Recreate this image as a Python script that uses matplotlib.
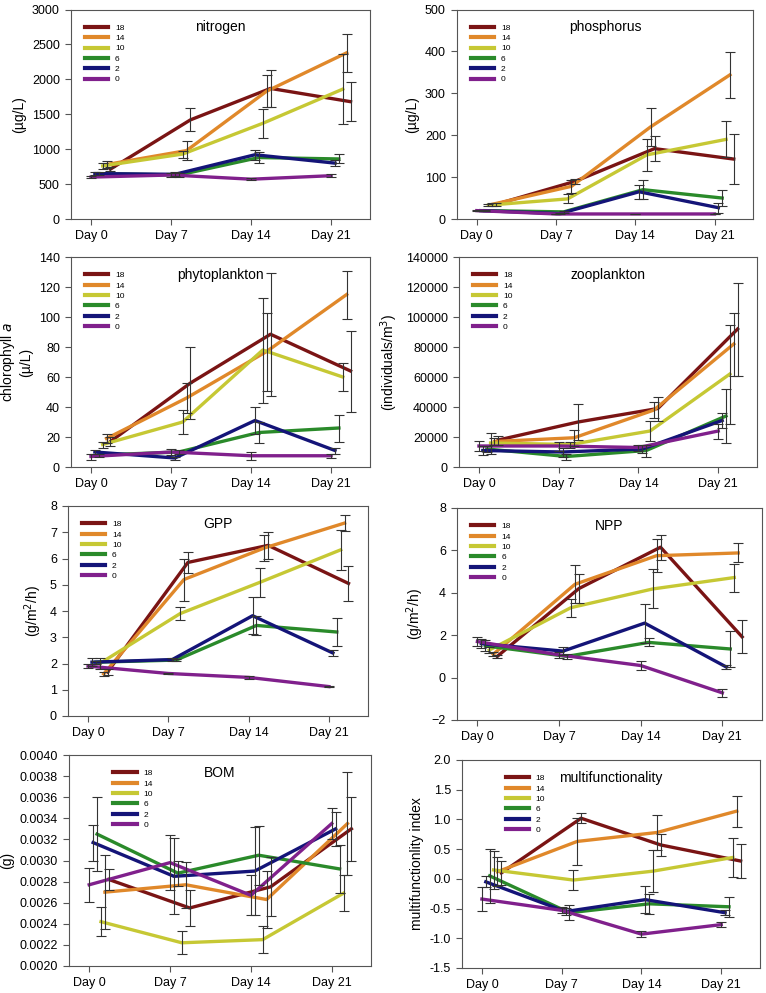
import numpy as np
import matplotlib
matplotlib.use("Agg")
import matplotlib.pyplot as plt

plt.rcParams['font.family'] = ['Liberation Sans', 'DejaVu Sans']

days = [0, 7, 14, 21]
day_labels = ["Day 0", "Day 7", "Day 14", "Day 21"]
treatments = ["18", "14", "10", "6", "2", "0"]
colors = ["#7a1414", "#e0882a", "#c6c834", "#2a8a2a", "#141478", "#80208c"]
offsets = [1.7, 1.36, 1.02, 0.68, 0.34, 0.0]

# mean values, order = treatments (18, 14, 10, 6, 2, 0)
nitrogen = [[715, 1420, 1870, 1680],
            [780, 980, 1830, 2380],
            [760, 930, 1370, 1860],
            [650, 630, 880, 860],
            [650, 640, 920, 800],
            [600, 630, 570, 620]]
nitrogen_err = [[30, 165, 270, 275],
                [45, 140, 225, 270],
                [40, 50, 205, 500],
                [20, 25, 80, 65],
                [20, 30, 75, 40],
                [20, 30, 10, 20]]

phosphorus = [[35, 90, 168, 143],
              [35, 78, 220, 344],
              [33, 48, 153, 190],
              [20, 17, 70, 50],
              [20, 13, 65, 27],
              [20, 12, 12, 12]]
phosphorus_err = [[3, 6, 30, 60],
                  [3, 16, 45, 55],
                  [3, 11, 39, 43],
                  [2, 2, 22, 19],
                  [2, 2, 17, 12],
                  [1, 1, 1, 1]]

phyto = [[17, 56, 88.5, 64],
         [19, 46, 77, 115],
         [15, 30, 78, 60],
         [8, 10, 23, 26],
         [10, 6, 31, 11],
         [7, 10, 7.5, 7.5]]
phyto_err = [[3, 24, 41, 27],
             [3, 10, 26, 16],
             [2, 8, 35, 9.5],
             [1, 1.5, 7, 9],
             [1.5, 1, 9, 2],
             [2, 2, 2.5, 1.5]]

zoo = [[18000, 30000, 39000, 92000],
       [17000, 19500, 38000, 82000],
       [16000, 15000, 24000, 62000],
       [12000, 7000, 11000, 34000],
       [11000, 10000, 12000, 31000],
       [14000, 14000, 13000, 24000]]
zoo_err = [[3000, 12000, 8000, 31000],
           [2500, 5500, 5500, 21000],
           [7000, 2000, 6500, 33000],
           [2000, 2000, 4000, 18000],
           [3000, 3000, 2500, 5000],
           [3500, 3000, 2000, 5000]]

gpp = [[1.68, 5.85, 6.5, 5.05],
       [1.6, 5.2, 6.4, 7.35],
       [2.0, 3.9, 5.1, 6.33],
       [2.05, 2.13, 3.45, 3.2],
       [2.05, 2.15, 3.82, 2.4],
       [1.9, 1.62, 1.47, 1.12]]
gpp_err = [[0.1, 0.4, 0.5, 0.68],
           [0.09, 0.8, 0.5, 0.3],
           [0.2, 0.26, 0.55, 0.77],
           [0.05, 0.05, 0.35, 0.55],
           [0.15, 0.05, 0.71, 0.13],
           [0.08, 0.02, 0.05, 0.03]]

npp = [[1.0, 4.2, 6.15, 1.92],
       [1.1, 4.4, 5.75, 5.88],
       [1.3, 3.3, 4.18, 4.72],
       [1.5, 1.0, 1.66, 1.35],
       [1.6, 1.25, 2.57, 0.5],
       [1.7, 1.07, 0.57, -0.72]]
npp_err = [[0.08, 0.7, 0.6, 0.78],
           [0.1, 0.9, 0.78, 0.45],
           [0.12, 0.42, 0.92, 0.66],
           [0.25, 0.12, 0.19, 0.85],
           [0.2, 0.18, 0.92, 0.08],
           [0.23, 0.13, 0.19, 0.2]]

bom = [[0.00282, 0.00255, 0.00275, 0.00330],
       [0.00270, 0.00277, 0.00263, 0.00335],
       [0.00242, 0.00222, 0.00225, 0.00269],
       [0.00325, 0.00288, 0.00305, 0.00292],
       [0.00317, 0.00285, 0.00290, 0.00330],
       [0.00277, 0.00298, 0.00267, 0.00335]]
bom_err = [[0.00010, 0.00017, 0.00028, 0.00030],
           [0.00035, 0.00022, 0.00027, 0.00049],
           [0.00014, 0.00011, 0.00013, 0.00017],
           [0.00035, 0.00012, 0.00028, 0.00023],
           [0.00017, 0.00036, 0.00042, 0.00016],
           [0.00016, 0.00026, 0.00019, 0.00015]]

multi = [[0.10, 1.02, 0.57, 0.30],
         [0.12, 0.63, 0.78, 1.14],
         [0.15, -0.02, 0.13, 0.36],
         [0.05, -0.57, -0.42, -0.47],
         [-0.05, -0.55, -0.35, -0.57],
         [-0.34, -0.53, -0.93, -0.77]]
multi_err = [[0.2, 0.08, 0.19, 0.29],
             [0.24, 0.39, 0.29, 0.26],
             [0.32, 0.17, 0.35, 0.33],
             [0.45, 0.13, 0.17, 0.17],
             [0.09, 0.06, 0.23, 0.04],
             [0.2, 0.05, 0.05, 0.04]]

W, H = 766, 993
fig = plt.figure(figsize=(W / 100, H / 100), dpi=100)


def add_panel(box, means, errs, title, ylabel, ylim, yticks, fmt=None, leg_x=0.03):
    l, t, r, b = box
    ax = fig.add_axes([l / W, 1 - b / H, (r - l) / W, (b - t) / H])
    for i, name in enumerate(treatments):
        x = np.array(days) + offsets[i]
        ax.plot(x, means[i], color=colors[i], lw=2.4, label=name, zorder=2)
        ax.errorbar(x, means[i], yerr=errs[i], fmt='none', ecolor='#333333',
                    elinewidth=0.8, capsize=3.3, capthick=0.8, zorder=3)
    ax.set_xlim(-1.75, 24.4)
    ax.set_ylim(*ylim)
    ax.set_yticks(yticks)
    if fmt:
        ax.set_yticklabels([fmt.format(v) for v in yticks])
    ax.set_xticks(days)
    ax.set_xticklabels(day_labels)
    ax.tick_params(labelsize=9, direction='out', length=4, width=0.8, color='#555555', pad=4)
    for s in ax.spines.values():
        s.set_color('#555555')
        s.set_linewidth(0.8)
    ax.set_ylabel(ylabel, fontsize=10, labelpad=4)
    ax.text(0.5, 0.915, title, transform=ax.transAxes, ha='center', va='center', fontsize=10)
    leg = ax.legend(loc='upper left', bbox_to_anchor=(leg_x, 0.955), frameon=False, fontsize=6,
                    handlelength=2.8, labelspacing=0.3, handletextpad=0.8, borderaxespad=0.2)
    for h in leg.get_lines():
        h.set_linewidth(3.0)
    return ax


add_panel((71, 9.5, 370, 219), nitrogen, nitrogen_err, "nitrogen", "(µg/L)",
          (0, 3000), np.arange(0, 3001, 500))
add_panel((457, 9.5, 753, 219), phosphorus, phosphorus_err, "phosphorus", "(µg/L)",
          (0, 500), np.arange(0, 501, 100))
add_panel((71, 257, 370, 467), phyto, phyto_err, "phytoplankton", "chlorophyll $a$\n(µ/L)",
          (0, 140), np.arange(0, 141, 20))
add_panel((459, 257, 757, 467), zoo, zoo_err, "zooplankton", "(individuals/m$^3$)",
          (0, 140000), np.arange(0, 140001, 20000))
add_panel((68, 506, 368, 716), gpp, gpp_err, "GPP", "(g/m$^2$/h)",
          (0, 8), np.arange(0, 9, 1))
add_panel((457, 508, 762, 720), npp, npp_err, "NPP", "(g/m$^2$/h)",
          (-2, 8), np.arange(-2, 9, 2))
add_panel((69, 755, 371, 966), bom, bom_err, "BOM", "(g)",
          (0.0020, 0.0040), np.linspace(0.0020, 0.0040, 11), fmt="{:.4f}", leg_x=0.13)
add_panel((462, 760, 760, 968), multi, multi_err, "multifunctionality", "multifunctionlity index",
          (-1.5, 2.0), np.arange(-1.5, 2.01, 0.5), fmt="{:.1f}", leg_x=0.13)

fig.savefig("out.png", dpi=100)
